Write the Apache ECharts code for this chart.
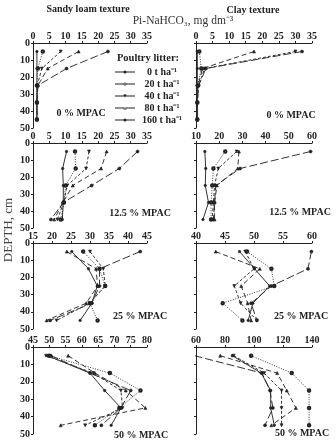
<!DOCTYPE html>
<html><head><meta charset="utf-8">
<script src="https://cdn.jsdelivr.net/npm/echarts@6/dist/echarts.min.js"></script>
<style>html,body{margin:0;padding:0;background:#fff}#c{width:336px;height:441px}</style>
</head><body><div id="c"></div>
<script>
// depths (cm) of the five sampled layers
const depths = [5, 15, 25, 35, 45];
const doses = ['0 t ha⁻¹', '20 t ha⁻¹', '40 t ha⁻¹', '80 t ha⁻¹', '160 t ha⁻¹'];

// Pi-NaHCO3 values, rows = litter doses (0, 20, 40, 80, 160), columns = depths
const sandy0 = [
  [1.2, 1.2, 1.2, 1.2, 1.2],
  [3.0, 1.5, 1.2, 1.2, 1.2],
  [8.5, 2.7, 1.3, 1.2, 1.2],
  [14.0, 4.5, 1.5, 1.2, 1.2],
  [23.0, 10.3, 1.5, 1.2, 1.2]
];
const clay0 = [
  [0.4, 0.4, 0.4, 0.4, 0.4],
  [1.0, 1.6, 0.5, 0.4, 0.4],
  [30.0, 2.6, 0.8, 0.4, 0.4],
  [17.5, 2.0, 0.6, 0.4, 0.4],
  [32.0, 3.0, 0.8, 0.4, 0.4]
];
const sandy12 = [
  [10.3, 9.1, 9.3, 9.3, 9.0],
  [12.9, 13.1, 10.0, 9.5, 8.5],
  [17.2, 16.3, 10.5, 9.4, 7.5],
  [22.6, 20.9, 12.2, 9.2, 6.5],
  [32.1, 26.5, 18.0, 9.3, 5.5]
];
const clay12 = [
  [13.8, 14.2, 14.0, 15.4, 13.0],
  [22.6, 17.5, 17.0, 16.5, 16.5],
  [27.5, 19.6, 18.0, 17.5, 17.0],
  [28.5, 28.0, 19.0, 18.0, 18.0],
  [59.4, 29.0, 18.5, 18.0, 17.5]
];
const sandy25 = [
  [25.2, 29.6, 31.9, 30.5, 27.4],
  [28.2, 32.5, 34.0, 30.0, 32.0],
  [30.0, 33.5, 34.0, 29.8, 21.2],
  [23.9, 31.6, 32.0, 29.0, 18.6],
  [43.2, 32.5, 32.5, 30.5, 19.5]
];
const clay25 = [
  [47.5, 50.1, 52.7, 49.8, 49.0],
  [48.8, 53.0, 53.5, 44.6, 48.0],
  [48.5, 50.0, 46.6, 47.7, 50.5],
  [43.4, 51.0, 47.8, 48.9, 49.5],
  [59.9, 59.3, 53.0, 49.5, 50.5]
];
const sandy50 = [
  [49.5, 62.5, 67.0, 72.0, 69.0],
  [50.0, 68.6, 78.0, 71.5, 64.0],
  [49.0, 63.5, 72.0, 72.5, 61.0],
  [55.8, 64.0, 73.5, 79.5, 53.5],
  [50.5, 62.5, 75.0, 72.0, 66.0]
];
const clay50 = [
  [85.0, 105.0, 111.5, 111.5, 114.0],
  [98.0, 126.0, 138.0, 138.0, 138.0],
  [86.0, 107.0, 119.0, 119.0, 119.0],
  [76.7, 116.0, 122.6, 128.9, 112.0],
  [59.0, 105.5, 111.0, 113.0, 107.6]
];

// x-axis ranges [min, max, interval]
const sandyTicks = [[0, 35, 5], [0, 35, 5], [15, 45, 5], [45, 80, 5]];
const clayTicks = [[0, 35, 5], [10, 60, 10], [40, 60, 5], [60, 140, 20]];
const depthTicks = [0, 50, 10];
const mpacLabels = ['0 % MPAC', '12.5 % MPAC', '25 % MPAC', '50 % MPAC'];

const FONT = 'Liberation Serif';
const INK = '#222';
const panels = [
  {d: sandy0, t: sandyTicks[0], c: 0, r: 0}, {d: clay0, t: clayTicks[0], c: 1, r: 0},
  {d: sandy12, t: sandyTicks[1], c: 0, r: 1}, {d: clay12, t: clayTicks[1], c: 1, r: 1},
  {d: sandy25, t: sandyTicks[2], c: 0, r: 2}, {d: clay25, t: clayTicks[2], c: 1, r: 2},
  {d: sandy50, t: sandyTicks[3], c: 0, r: 3}, {d: clay50, t: clayTicks[3], c: 1, r: 3}
];
const colLeft = [33, 196], colWidth = [114, 116];
const rowTop = [43, 143, 243, 347], rowH = [85, 85, 86, 87];
const styles = [
  {sym: 'circle', size: 2.5, dash: 'solid', rot: 0},
  {sym: 'emptyCircle', size: 2.5, dash: [1, 1.5], rot: 0},
  {sym: 'triangle', size: 3, dash: [3, 2], rot: 180},
  {sym: 'triangle', size: 3, dash: [5, 3], rot: 0},
  {sym: 'circle', size: 3, dash: [8, 3], rot: 0}
];
// legend glyphs: a 1px line with a small marker, 20 x 3 box
const LINE = 'M0,1 H20 V2 H0 Z ';
const DOT = 'M8.5,1.5 A1.5,1.5 0 1,1 11.5,1.5 A1.5,1.5 0 1,1 8.5,1.5 Z ';
const legendIcons = [
  'path://' + LINE + DOT,
  'path://M0,1 H8.6 V2 H0 Z M11.4,1 H20 V2 H11.4 Z ' + DOT + 'M9.3,1.5 A0.7,0.7 0 1,0 10.7,1.5 A0.7,0.7 0 1,0 9.3,1.5 Z',
  'path://' + LINE + 'M8.3,0 L11.7,0 L10,3 Z',
  'path://' + LINE + 'M8.3,3 L11.7,3 L10,0 Z',
  'path://' + LINE + DOT
];

const grid = [], xAxis = [], yAxis = [], series = [];
panels.forEach((p, i) => {
  grid.push({left: colLeft[p.c], top: rowTop[p.r], width: colWidth[p.c], height: rowH[p.r]});
  xAxis.push({
    type: 'value', gridIndex: i, position: 'top', min: p.t[0], max: p.t[1], interval: p.t[2],
    axisLine: {lineStyle: {color: INK, width: 1}},
    axisTick: {show: true, length: 2, lineStyle: {color: INK}},
    axisLabel: {fontFamily: FONT, fontWeight: 'bold', fontSize: 10, color: INK, margin: 2},
    splitLine: {show: false}
  });
  yAxis.push({
    type: 'value', gridIndex: i, inverse: true, min: depthTicks[0], max: depthTicks[1], interval: depthTicks[2],
    axisLine: {lineStyle: {color: INK, width: 1}},
    axisTick: {show: true, length: 2, lineStyle: {color: INK}},
    axisLabel: {show: p.c === 0, fontFamily: FONT, fontWeight: 'bold', fontSize: 10, color: INK, margin: 3},
    splitLine: {show: false}
  });
  p.d.forEach((vals, k) => {
    const s = styles[k];
    series.push({
      name: doses[k], type: 'line', xAxisIndex: i, yAxisIndex: i,
      data: vals.map((v, j) => [v, depths[j]]),
      symbol: s.sym, symbolSize: s.size, symbolRotate: s.rot,
      lineStyle: {color: '#333', width: 1, type: s.dash},
      itemStyle: {color: '#222', borderColor: '#222', borderWidth: 0.6},
      emphasis: {disabled: true}, animation: false
    });
  });
});

const txt = (x, y, t, size, bold, fill) => ({
  type: 'text', x: x, y: y,
  style: {text: t, fontFamily: FONT, fontSize: size, fontWeight: bold ? 'bold' : 'normal',
          fill: fill || INK, align: 'center', verticalAlign: 'middle'}
});

const graphic = [
  txt(88, 9, 'Sandy loam texture', 10, true),
  txt(253, 10, 'Clay texture', 10, true),
  txt(183, 21, 'Pi-NaHCO₃, mg dm⁻³', 11.5, false, '#333'),
  {type: 'text', x: 9, y: 230, rotation: Math.PI / 2,
   style: {text: 'DEPTH, cm', fontFamily: FONT, fontSize: 13, fill: '#444', align: 'center', verticalAlign: 'middle'}},
  txt(148, 58, 'Poultry litter:', 10.5, true),
  txt(81, 113, mpacLabels[0], 10, true), txt(291, 115, mpacLabels[0], 10, true),
  txt(140, 213, mpacLabels[1], 10, true), txt(300, 212, mpacLabels[1], 10, true),
  txt(140, 316, mpacLabels[2], 10, true), txt(301, 316, mpacLabels[2], 10, true),
  txt(141, 435, mpacLabels[3], 10, true), txt(302, 433, mpacLabels[3], 10, true)
];

const chart = echarts.init(document.getElementById('c'), null, {renderer: 'canvas'});
chart.setOption({
  animation: false,
  grid: grid, xAxis: xAxis, yAxis: yAxis, series: series, graphic: graphic,
  legend: {
    data: doses.map((n, k) => ({name: n, icon: legendIcons[k]})),
    orient: 'vertical', left: 110, top: 62,
    itemWidth: 20, itemHeight: 3, itemGap: 2,
    itemStyle: {color: '#222', borderWidth: 0},
    formatter: n => '{r|' + n + '}',
    textStyle: {fontFamily: FONT, fontWeight: 'bold', fontSize: 10, color: INK,
      rich: {r: {width: 44, align: 'center', fontFamily: FONT, fontWeight: 'bold', fontSize: 10, color: INK, lineHeight: 4}}},
    selectedMode: false
  }
});
</script></body></html>
